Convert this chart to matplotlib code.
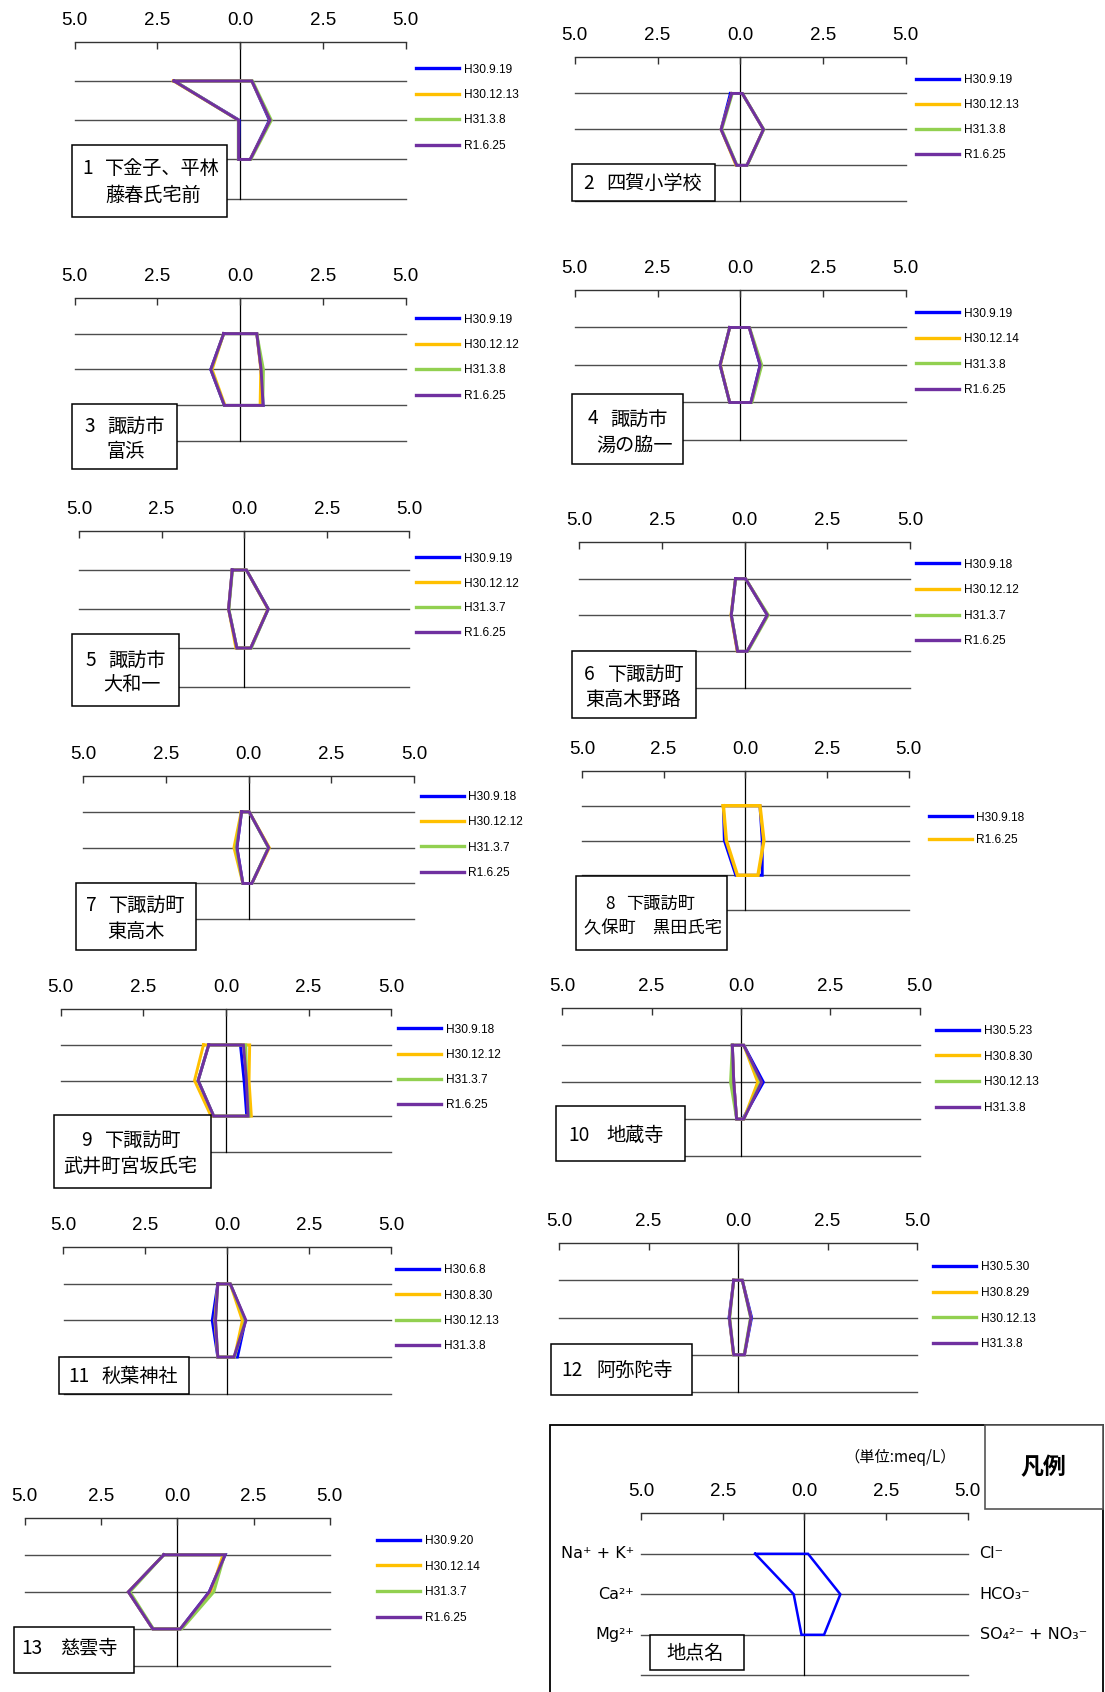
import matplotlib.pyplot as plt
from matplotlib.patches import Rectangle
from matplotlib import transforms

W, H = 1105, 1692

BLUE, ORANGE, GREEN, PURPLE = "#0000FF", "#FFC000", "#92D050", "#7030A0"
COLORS4 = [BLUE, ORANGE, GREEN, PURPLE]

TICKS = [-5, -2.5, 0, 2.5, 5]
TICK_LABELS = ["5.0", "2.5", "0.0", "2.5", "5.0"]

# cation rows: Na+K, Ca, Mg ; anion rows: Cl, HCO3, SO4+NO3 (meq/L)
S1_NAME = ["1", "下金子、平林", "藤春氏宅前"]
S1_DATES = ["H30.9.19", "H30.12.13", "H31.3.8", "R1.6.25"]
S1_CATION = [[2.0, 0.03, 0.05], [2.02, 0.05, 0.05], [1.98, 0.06, 0.06], [2.0, 0.05, 0.05]]
S1_ANION = [[0.35, 0.88, 0.3], [0.35, 0.9, 0.3], [0.37, 0.94, 0.32], [0.35, 0.9, 0.3]]

S2_NAME = ["2", "四賀小学校"]
S2_DATES = ["H30.9.19", "H30.12.13", "H31.3.8", "R1.6.25"]
S2_CATION = [[0.3, 0.58, 0.11], [0.26, 0.58, 0.13], [0.24, 0.56, 0.1], [0.26, 0.58, 0.11]]
S2_ANION = [[0.06, 0.7, 0.2], [0.06, 0.7, 0.2], [0.06, 0.71, 0.21], [0.06, 0.7, 0.2]]

S3_NAME = ["3", "諏訪市", "富浜"]
S3_DATES = ["H30.9.19", "H30.12.12", "H31.3.8", "R1.6.25"]
S3_CATION = [[0.5, 0.89, 0.48], [0.5, 0.85, 0.46], [0.5, 0.88, 0.48], [0.5, 0.89, 0.48]]
S3_ANION = [[0.5, 0.63, 0.69], [0.5, 0.62, 0.6], [0.5, 0.7, 0.68], [0.5, 0.63, 0.69]]

S4_NAME = ["4", "諏訪市", "湯の脇一"]
S4_DATES = ["H30.9.19", "H30.12.14", "H31.3.8", "R1.6.25"]
S4_CATION = [[0.32, 0.61, 0.32], [0.32, 0.6, 0.32], [0.32, 0.61, 0.32], [0.32, 0.61, 0.32]]
S4_ANION = [[0.27, 0.6, 0.32], [0.27, 0.63, 0.33], [0.28, 0.65, 0.35], [0.27, 0.6, 0.32]]

S5_NAME = ["5", "諏訪市", "大和一"]
S5_DATES = ["H30.9.19", "H30.12.12", "H31.3.7", "R1.6.25"]
S5_CATION = [[0.36, 0.47, 0.22], [0.36, 0.47, 0.25], [0.35, 0.46, 0.22], [0.36, 0.47, 0.22]]
S5_ANION = [[0.07, 0.73, 0.2], [0.07, 0.72, 0.2], [0.07, 0.73, 0.22], [0.07, 0.73, 0.2]]

S6_NAME = ["6", "下諏訪町", "東高木野路"]
S6_DATES = ["H30.9.18", "H30.12.12", "H31.3.7", "R1.6.25"]
S6_CATION = [[0.27, 0.4, 0.21], [0.27, 0.41, 0.22], [0.27, 0.4, 0.2], [0.27, 0.4, 0.21]]
S6_ANION = [[0.03, 0.69, 0.08], [0.03, 0.7, 0.08], [0.03, 0.72, 0.1], [0.03, 0.69, 0.08]]

S7_NAME = ["7", "下諏訪町", "東高木"]
S7_DATES = ["H30.9.18", "H30.12.12", "H31.3.7", "R1.6.25"]
S7_CATION = [[0.21, 0.35, 0.17], [0.22, 0.44, 0.17], [0.21, 0.38, 0.17], [0.21, 0.35, 0.17]]
S7_ANION = [[0.02, 0.61, 0.1], [0.02, 0.63, 0.1], [0.02, 0.6, 0.1], [0.02, 0.61, 0.1]]

S8_NAME = ["8", "下諏訪町", "久保町　黒田氏宅"]
S8_DATES = ["H30.9.18", "R1.6.25"]
S8_CATION = [[0.67, 0.64, 0.29], [0.67, 0.58, 0.24]]
S8_ANION = [[0.45, 0.52, 0.52], [0.45, 0.57, 0.39]]

S9_NAME = ["9", "下諏訪町", "武井町宮坂氏宅"]
S9_DATES = ["H30.9.18", "H30.12.12", "H31.3.7", "R1.6.25"]
S9_CATION = [[0.52, 0.84, 0.37], [0.68, 0.95, 0.45], [0.52, 0.84, 0.37], [0.52, 0.84, 0.37]]
S9_ANION = [[0.44, 0.55, 0.63], [0.72, 0.7, 0.77], [0.6, 0.63, 0.7], [0.53, 0.62, 0.67]]

S10_NAME = ["10", "地蔵寺"]
S10_DATES = ["H30.5.23", "H30.8.30", "H30.12.13", "H31.3.8"]
S10_CATION = [[0.24, 0.2, 0.12], [0.24, 0.2, 0.12], [0.24, 0.29, 0.12], [0.24, 0.2, 0.12]]
S10_ANION = [[0.08, 0.63, 0.05], [0.08, 0.47, 0.08], [0.08, 0.55, 0.08], [0.08, 0.58, 0.08]]

S11_NAME = ["11", "秋葉神社"]
S11_DATES = ["H30.6.8", "H30.8.30", "H30.12.13", "H31.3.8"]
S11_CATION = [[0.29, 0.46, 0.29], [0.29, 0.38, 0.29], [0.29, 0.36, 0.29], [0.29, 0.36, 0.29]]
S11_ANION = [[0.09, 0.55, 0.31], [0.09, 0.46, 0.22], [0.09, 0.55, 0.22], [0.09, 0.57, 0.2]]

S12_NAME = ["12", "阿弥陀寺"]
S12_DATES = ["H30.5.30", "H30.8.29", "H30.12.13", "H31.3.8"]
S12_CATION = [[0.12, 0.25, 0.12], [0.12, 0.24, 0.13], [0.12, 0.23, 0.12], [0.12, 0.24, 0.12]]
S12_ANION = [[0.12, 0.38, 0.18], [0.12, 0.36, 0.18], [0.12, 0.35, 0.17], [0.12, 0.36, 0.18]]

S13_NAME = ["13", "慈雲寺"]
S13_DATES = ["H30.9.20", "H30.12.14", "H31.3.7", "R1.6.25"]
S13_CATION = [[0.44, 1.6, 0.8], [0.44, 1.6, 0.8], [0.44, 1.55, 0.78], [0.44, 1.6, 0.8]]
S13_ANION = [[1.57, 1.05, 0.1], [1.5, 1.1, 0.1], [1.55, 1.2, 0.15], [1.57, 1.05, 0.1]]

LEGEND_CATION = [1.51, 0.33, 0.09]
LEGEND_ANION = [0.11, 1.1, 0.6]
CATION_LABELS = ["Na⁺ + K⁺", "Ca²⁺", "Mg²⁺"]
ANION_LABELS = ["Cl⁻", "HCO₃⁻", "SO₄²⁻ + NO₃⁻"]

PANELS = [
    (S1_NAME, S1_DATES, S1_CATION, S1_ANION),
    (S2_NAME, S2_DATES, S2_CATION, S2_ANION),
    (S3_NAME, S3_DATES, S3_CATION, S3_ANION),
    (S4_NAME, S4_DATES, S4_CATION, S4_ANION),
    (S5_NAME, S5_DATES, S5_CATION, S5_ANION),
    (S6_NAME, S6_DATES, S6_CATION, S6_ANION),
    (S7_NAME, S7_DATES, S7_CATION, S7_ANION),
    (S8_NAME, S8_DATES, S8_CATION, S8_ANION),
    (S9_NAME, S9_DATES, S9_CATION, S9_ANION),
    (S10_NAME, S10_DATES, S10_CATION, S10_ANION),
    (S11_NAME, S11_DATES, S11_CATION, S11_ANION),
    (S12_NAME, S12_DATES, S12_CATION, S12_ANION),
    (S13_NAME, S13_DATES, S13_CATION, S13_ANION),
]

# pixel layout: axis (left, right, top line, bottom line), legend (x, first y, last y),
# name box, and the anchor of each name line
LAYOUT = [
    dict(axis=(74.7, 405.8, 41.7, 198.7), legend=(416.3, 67, 148.3), box=(71.9, 145, 227.3, 217.3),
         text=[(82.4, 168.3), (105.2, 168.3), (105.2, 195.5)]),
    dict(axis=(574.8, 905.8, 57.5, 201.3), legend=(916.4, 77.3, 158), box=(572.3, 164.3, 715.3, 201),
         text=[(583.6, 183.3), (606.6, 183.3)]),
    dict(axis=(74.7, 405.8, 297.7, 441.3), legend=(416.3, 317, 398.3), box=(71.9, 404.3, 177.1, 469),
         text=[(84.2, 426.7), (107, 426.7), (107, 451.7)]),
    dict(axis=(574.8, 905.8, 290, 440), legend=(916.4, 311, 392.7), box=(572.3, 394.3, 682.7, 464.3),
         text=[(587.2, 419), (610.2, 419), (596, 445)]),
    dict(axis=(78.9, 409.3, 531, 687), legend=(416.3, 556, 636), box=(71.9, 634.3, 178.9, 705.7),
         text=[(85.2, 660), (108.7, 660), (103.5, 685)]),
    dict(axis=(579, 910, 542.3, 687.7), legend=(916.4, 562, 644), box=(572.3, 651, 695.8, 717.7),
         text=[(583.6, 674.3), (608.4, 674.3), (585.4, 699.3)]),
    dict(axis=(83.1, 413.9, 776, 919.3), legend=(420.9, 794.7, 875.3), box=(76.1, 882.7, 195.7, 950),
         text=[(85.9, 905.7), (108.7, 905.7), (107, 931)]),
    dict(axis=(581.9, 908.6, 771, 910), legend=(928.8, 816.7, 841), box=(575.8, 876, 727, 950),
         text=[(604.9, 904.3), (626.1, 904.3), (583.5, 928.3)], size=12.4),
    dict(axis=(60.7, 391.1, 1009.3, 1151.7), legend=(398.1, 1027, 1107.7), box=(53.7, 1115, 210.5, 1188.3),
         text=[(80.7, 1140), (104.5, 1140), (63.1, 1166.7)]),
    dict(axis=(562.3, 919.5, 1008.3, 1156), legend=(936.4, 1028.3, 1110.7), box=(556.2, 1106, 684.9, 1161),
         text=[(568.8, 1135.7), (606, 1135.7)]),
    dict(axis=(63.5, 391.1, 1247.3, 1393.7), legend=(396.4, 1267.7, 1348.7), box=(58.9, 1357.3, 189.4, 1394),
         text=[(68.4, 1376.7), (101.7, 1376.7)]),
    dict(axis=(559, 917, 1243, 1392), legend=(933, 1264.7, 1346.7), box=(551.4, 1343.5, 691.7, 1395),
         text=[(561, 1370.5), (596.7, 1370.5)]),
    dict(axis=(24.7, 329.8, 1517.7, 1666), legend=(377, 1538.3, 1620.7), box=(14, 1626.7, 134, 1672.7),
         text=[(21.1, 1648.3), (59.9, 1648.3)]),
]

plt.rcParams['font.family'] = ['Liberation Sans', 'Noto Sans CJK JP']

fig = plt.figure(figsize=(W / 100, H / 100), dpi=100)


def fx(x):
    return x / W


def fy(y):
    return 1 - y / H


def make_axes(xl, xr, yt, yb):
    ax = fig.add_axes([fx(xl), fy(yb), (xr - xl) / W, (yb - yt) / H])
    ax.set_xlim(-5, 5)
    ax.set_ylim(4, 0)
    ax.patch.set_visible(False)
    for s in ['left', 'right', 'bottom']:
        ax.spines[s].set_visible(False)
    ax.spines['top'].set_color('#333333')
    ax.spines['top'].set_linewidth(1.0)
    ax.xaxis.tick_top()
    ax.set_xticks(TICKS)
    ax.set_xticklabels(TICK_LABELS)
    ax.tick_params(axis='x', direction='in', length=4.8, width=1.0, color='#333333',
                   pad=9.5, labelsize=13.5)
    ax.set_yticks([])
    for r in (1, 2, 3, 4):
        ax.axhline(r, color='#4d4d4d', lw=1.0, clip_on=False, zorder=1)
    ax.axvline(0, color='black', lw=0.9, clip_on=False, zorder=1)
    return ax


def draw_shape(ax, cation, anion, color, lw):
    xs = [-cation[0], -cation[1], -cation[2], anion[2], anion[1], anion[0], -cation[0]]
    ys = [1, 2, 3, 3, 2, 1, 1]
    line, = ax.plot(xs, ys, color=color, lw=lw, clip_on=False, zorder=3,
                    solid_joinstyle='miter')
    return line


def name_box(x0, y0, x1, y1, lw=1.1):
    fig.add_artist(Rectangle((fx(x0), fy(y1)), (x1 - x0) / W, (y1 - y0) / H,
                             transform=fig.transFigure, facecolor='white',
                             edgecolor='black', lw=lw, zorder=2))


for (name, dates, cation, anion), lay in zip(PANELS, LAYOUT):
    ax = make_axes(*lay['axis'])
    colors = COLORS4 if len(dates) == 4 else [BLUE, ORANGE]
    handles = []
    for c, a, col in zip(cation, anion, colors):
        lw = 2.5 if len(dates) == 2 and col == ORANGE else 2.1
        handles.append(draw_shape(ax, c, a, col, lw))

    lx, ly0, ly1 = lay['legend']
    fs = 8.6
    fs_px = fs * 100 / 72
    pitch = (ly1 - ly0) / (len(dates) - 1)
    leg = ax.legend(handles, dates, loc='center left',
                    bbox_to_anchor=(fx(lx), fy((ly0 + ly1) / 2)),
                    bbox_transform=fig.transFigure, frameon=False,
                    borderpad=0, borderaxespad=0, handlelength=3.6,
                    handletextpad=0.38, labelspacing=(pitch - 13.7) / fs_px,
                    prop=dict(family='Liberation Sans', size=fs))
    for ln in leg.get_lines():
        ln.set_linewidth(2.4)

    name_box(*lay['box'])
    for (tx, ty), s in zip(lay['text'], name):
        fig.text(fx(tx), fy(ty), s, ha='left', va='center', fontsize=lay.get('size', 13.8),
                 family=['Noto Sans CJK JP'], zorder=3)

# --- legend explanation panel ---
fig.add_artist(Rectangle((fx(549.7), fy(1700)), (1103 - 549.7) / W, (1700 - 1425) / H,
                         transform=fig.transFigure, fill=False, edgecolor='black',
                         lw=1.3, zorder=2))
fig.add_artist(Rectangle((fx(984.5), fy(1509.3)), (1103 - 984.5) / W, (1509.3 - 1425) / H,
                         transform=fig.transFigure, facecolor='white', edgecolor='#555555',
                         lw=1.2, zorder=2))
fig.text(fx(1043.5), fy(1467.5), "凡例", ha='center', va='center', fontsize=16.5,
         fontweight='bold', family=['Noto Sans CJK JP'], zorder=3)
fig.text(fx(900), fy(1457), "（単位:meq/L）", ha='center', va='center', fontsize=11,
         family=['Noto Sans CJK JP'], zorder=3)

lax = make_axes(641.3, 967.6, 1513.3, 1675.3)
draw_shape(lax, LEGEND_CATION, LEGEND_ANION, BLUE, 1.8)
left_off = transforms.offset_copy(lax.transData, fig=fig, x=-7, y=0, units='dots')
right_off = transforms.offset_copy(lax.transData, fig=fig, x=12, y=0, units='dots')
for r, lab in enumerate(CATION_LABELS, start=1):
    lax.text(-5, r, lab, ha='right', va='center', fontsize=11.5, transform=left_off,
             family=['DejaVu Sans'])
for r, lab in enumerate(ANION_LABELS, start=1):
    lax.text(5, r, lab, ha='left', va='center', fontsize=11.5, transform=right_off,
             family=['DejaVu Sans'])

name_box(649.8, 1635, 743.5, 1670)
fig.text(fx(666), fy(1653), "地点名", ha='left', va='center', fontsize=13.8,
         family=['Noto Sans CJK JP'], zorder=3)

fig.savefig("out.png", dpi=100, facecolor='white')
